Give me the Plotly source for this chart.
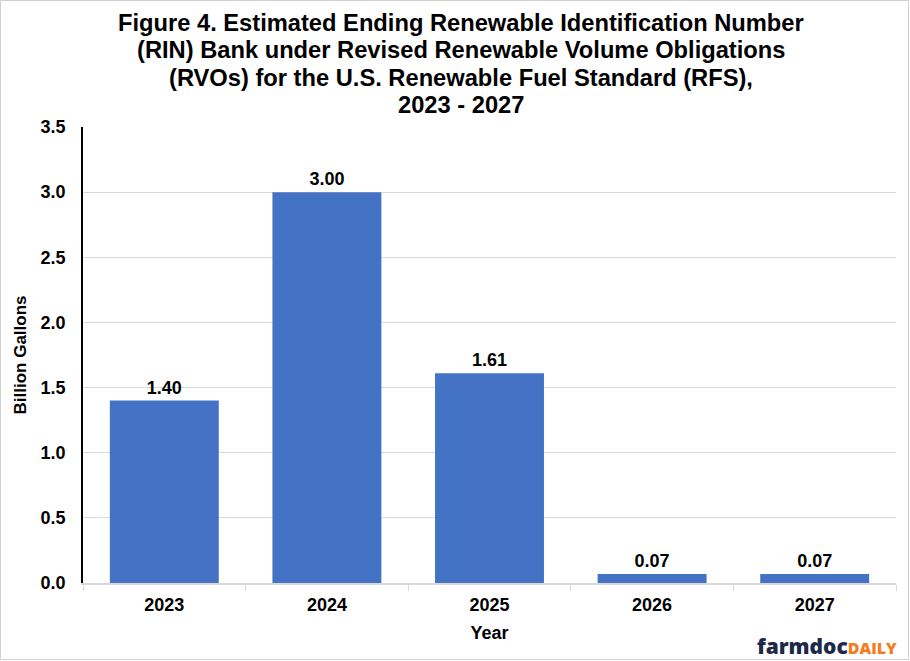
import plotly.graph_objects as go

years = ["2023", "2024", "2025", "2026", "2027"]
rin_bank = [1.40, 3.00, 1.61, 0.07, 0.07]
labels = ["1.40", "3.00", "1.61", "0.07", "0.07"]
title_lines = [
    "Figure 4. Estimated Ending Renewable Identification Number",
    "(RIN) Bank under Revised Renewable Volume Obligations",
    "(RVOs) for the U.S. Renewable Fuel Standard (RFS),",
    "2023 - 2027",
]

W, H = 910, 661
L, R, T, B = 83, 14, 127, 78
pw, ph = W - L - R, H - T - B

def px_x(x):
    return (x - L) / pw

def px_y(y):
    return (H - B - y) / ph

fig = go.Figure(go.Bar(
    x=years, y=rin_bank, text=["<b>%s</b>" % s for s in labels], textposition="outside",
    textfont=dict(family="Liberation Sans", size=18, color="black"),
    marker=dict(color="#4472C4", line=dict(width=0)),
    width=0.67, cliponaxis=False,
))

fig.update_layout(
    width=W, height=H,
    margin=dict(l=L, r=R, t=T, b=B),
    paper_bgcolor="white", plot_bgcolor="white",
    font=dict(family="Liberation Sans", color="black"),
    showlegend=False,
)

for i, line in enumerate(title_lines):
    fig.add_annotation(
        xref="paper", yref="paper", x=px_x(461), y=px_y(23 + 27.3 * i),
        xanchor="center", yanchor="middle", showarrow=False,
        text="<b>%s</b>" % line,
        font=dict(family="Liberation Sans", size=23.7, color="black"),
    )

fig.update_xaxes(
    title=dict(text="<b>Year</b>", font=dict(size=18), standoff=12),
    tickfont=dict(size=18, family="Liberation Sans"),
    tickprefix="<b>", ticksuffix="</b>",
    showline=True, linecolor="#d9d9d9", linewidth=1.5,
    ticks="outside", tickcolor="#d9d9d9", ticklen=6, tickson="boundaries",
    showgrid=False, ticklabelstandoff=5,
)
fig.update_yaxes(
    title=dict(text="<b>Billion Gallons</b>", font=dict(size=17), standoff=10),
    range=[0, 3.5], dtick=0.5, tickformat=".1f",
    tickfont=dict(size=18, family="Liberation Sans"),
    tickprefix="<b>", ticksuffix="</b>",
    showline=True, linecolor="black", linewidth=1.5,
    showgrid=True, gridcolor="#d9d9d9", gridwidth=1.2,
    zeroline=False, ticks="", ticklabelstandoff=12,
)

# outer border
fig.add_shape(type="rect", xref="paper", yref="paper",
              x0=px_x(0.5), x1=px_x(W - 1.5),
              y0=px_y(H - 1.5), y1=px_y(0.5),
              line=dict(color="#d0d0d0", width=1), fillcolor="rgba(0,0,0,0)", layer="below")

fig.add_annotation(
    xref="paper", yref="paper", x=px_x(899), y=px_y(646),
    xanchor="right", yanchor="middle", showarrow=False,
    text="<span style='color:#1c2a48;font-size:21px;font-weight:800'>farmdoc</span><span style='color:#f47b20;font-size:16px;font-weight:800'>DAILY</span>",
    font=dict(family="Open Sans", size=16),
)

fig.write_html("out.html", config={"displayModeBar": False},
               post_script="document.body.style.margin='0';")
